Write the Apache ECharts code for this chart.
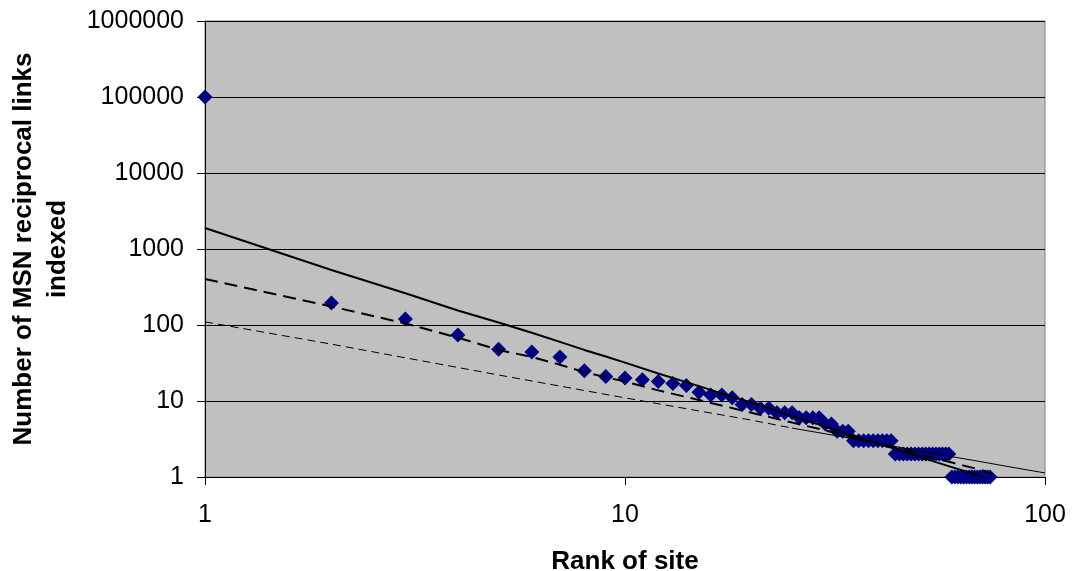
<!DOCTYPE html>
<html>
<head>
<meta charset="UTF-8" />
<title>MSN reciprocal links by rank</title>
<script type="text/javascript" src="https://cdn.jsdelivr.net/npm/echarts@6/dist/echarts.min.js"></script>
<style type="text/css">
    html, body { margin: 0; padding: 0; background: #ffffff; }
    #chart { width: 1076px; height: 571px; }
</style>
</head>
<body>
<div id="chart"></div>
<script type="text/javascript">
// observed sites: rank -> number of links
var siteRanks = [1, 2, 3, 4, 5, 6, 7, 8, 9, 10, 11, 12, 13, 14, 15, 16, 17, 18, 19, 20,
    21, 22, 23, 24, 25, 26, 27, 28, 29, 30, 31, 32, 33, 34, 35, 36, 37, 38, 39, 40,
    41, 42, 43, 44, 45, 46, 47, 48, 49, 50, 51, 52, 53, 54, 55, 56, 57, 58, 59, 60,
    61, 62, 63, 64, 65, 66, 67, 68, 69, 70, 71, 72, 73, 74];
var linkCounts = [100000, 195, 120, 74, 48, 44, 38, 25, 21, 20, 19, 18, 17, 16, 13, 12, 12, 11, 9, 9,
    8, 8, 7, 7, 7, 6, 6, 6, 6, 5, 5, 4, 4, 4, 3, 3, 3, 3, 3, 3,
    3, 3, 3, 2, 2, 2, 2, 2, 2, 2, 2, 2, 2, 2, 2, 2, 2, 2, 2, 1,
    1, 1, 1, 1, 1, 1, 1, 1, 1, 1, 1, 1, 1, 1];

// thick solid fit line
var solidRanks = [1, 2, 3, 4, 5, 6, 7, 8, 9, 10, 12, 14, 16, 18, 20, 25, 30, 35, 40, 45, 50, 55, 60, 65, 71];
var solidValues = [1890, 530, 262, 155, 108, 79, 60, 47, 38.5, 32, 23, 17.7, 14, 11.3, 9.6, 6.3, 4.6, 3.5, 2.75, 2.24, 1.86, 1.57, 1.35, 1.17, 1.0];

// thick dashed fit line
var dashRanks = [1, 2, 3, 4, 5, 6, 7, 8, 9, 10, 12, 15, 20, 25, 30, 40, 50, 60, 70, 75];
var dashValues = [403, 175, 105, 68, 47, 38, 30, 24, 20.5, 18, 13.8, 10.3, 7, 5.2, 4.1, 2.8, 2.0, 1.55, 1.25, 1.1];

// thin fit line (dashed part, then dense part that looks solid)
var thinRanks = [1, 2, 3, 5, 10, 15, 20, 25];
var thinValues = [110, 56, 37, 22, 11, 7.4, 5.6, 4.4];
var thinTailRanks = [25, 30, 40, 50, 60, 70, 80, 90, 100];
var thinTailValues = [4.4, 3.7, 2.8, 2.2, 1.85, 1.6, 1.4, 1.25, 1.13];

function pairs(xs, ys) {
    var out = [];
    for (var i = 0; i < xs.length; i++) {
        out.push([xs[i], ys[i]]);
    }
    return out;
}

var labelFont = "'Liberation Sans', Arial, sans-serif";

var myChart = echarts.init(document.getElementById('chart'));
var option = {
    backgroundColor: '#ffffff',
    animation: false,
    grid: {
        left: 205,
        right: 31,
        top: 21,
        bottom: 94,
        containLabel: false,
        outerBoundsMode: 'none',
        show: true,
        backgroundColor: '#c0c0c0',
        borderColor: '#808080',
        borderWidth: 1
    },
    xAxis: {
        type: 'log',
        logBase: 10,
        min: 1,
        max: 100,
        name: 'Rank of site',
        nameLocation: 'middle',
        nameGap: 72,
        nameTextStyle: { fontFamily: labelFont, fontSize: 26, fontWeight: 'bold', color: '#000' },
        axisLine: { lineStyle: { color: '#000', width: 1 } },
        axisTick: { show: true, inside: false, length: 8, lineStyle: { color: '#000' } },
        minorTick: { show: false },
        splitLine: { show: false },
        axisLabel: {
            margin: 26,
            fontFamily: labelFont,
            fontSize: 25,
            color: '#000',
            formatter: function (v) { return String(Math.round(v)); }
        }
    },
    yAxis: {
        type: 'log',
        logBase: 10,
        min: 1,
        max: 1000000,
        name: 'Number of MSN reciprocal links\nindexed',
        nameLocation: 'middle',
        nameRotate: 90,
        nameGap: 130,
        nameTextStyle: { fontFamily: labelFont, fontSize: 26, fontWeight: 'bold', color: '#000', lineHeight: 34 },
        axisLine: { show: true, lineStyle: { color: '#000', width: 1 } },
        axisTick: { show: true, inside: false, length: 8, lineStyle: { color: '#000' } },
        splitLine: { show: true, lineStyle: { color: '#000', width: 1 } },
        axisLabel: {
            margin: 21,
            fontFamily: labelFont,
            fontSize: 25,
            color: '#000',
            formatter: function (v) { return String(Math.round(v)); }
        }
    },
    series: [
        {
            name: 'sites',
            type: 'scatter',
            symbol: 'diamond',
            symbolSize: 15,
            itemStyle: { color: '#000080', opacity: 1 },
            data: pairs(siteRanks, linkCounts),
            z: 2
        },
        {
            name: 'fit 1',
            type: 'line',
            symbol: 'none',
            lineStyle: { color: '#000', width: 2 },
            data: pairs(solidRanks, solidValues),
            z: 3
        },
        {
            name: 'fit 2',
            type: 'line',
            symbol: 'none',
            lineStyle: { color: '#000', width: 2, type: [13, 7] },
            data: pairs(dashRanks, dashValues),
            z: 3
        },
        {
            name: 'fit 3',
            type: 'line',
            symbol: 'none',
            lineStyle: { color: '#000', width: 1, type: [8, 5] },
            data: pairs(thinRanks, thinValues),
            z: 3
        },
        {
            name: 'fit 3 tail',
            type: 'line',
            symbol: 'none',
            lineStyle: { color: '#000', width: 1 },
            data: pairs(thinTailRanks, thinTailValues),
            z: 3
        }
    ]
};
myChart.setOption(option);
</script>
</body>
</html>
